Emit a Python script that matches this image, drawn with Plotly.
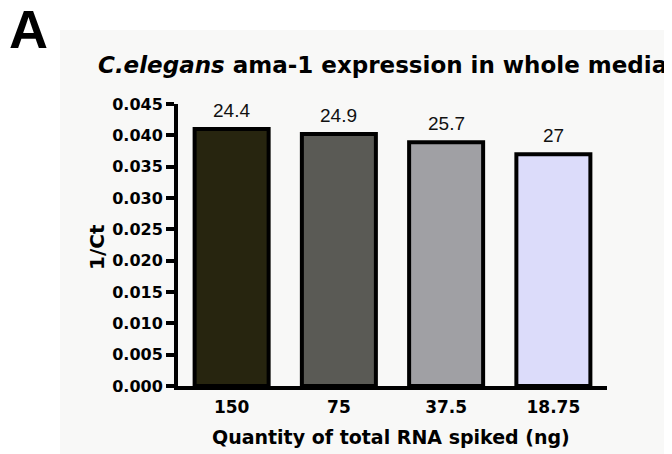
import plotly.graph_objects as go

categories = ["150", "75", "37.5", "18.75"]
inv_ct = [0.0410, 0.0402, 0.0389, 0.0370]
ct_labels = ["24.4", "24.9", "25.7", "27"]
bar_colors = ["#27250f", "#5a5a55", "#a0a0a4", "#dcdcfa"]
y_ticks = [0.000, 0.005, 0.010, 0.015, 0.020, 0.025, 0.030, 0.035, 0.040, 0.045]

OFF = 8  # page body margin
L, R, T, B = 178 - OFF, 607 - OFF, 104 - OFF, 386 - OFF
W, H = 672, 454
def px(x):
    return (x - OFF - L) / (R - L)
def py(y):
    return (B - (y - OFF)) / (B - T)

FB = "DejaVu Sans, Verdana, sans-serif"

fig = go.Figure()
fig.add_trace(go.Bar(
    x=categories, y=inv_ct,
    marker=dict(color=bar_colors, line=dict(color="black", width=4)),
    cliponaxis=False,
))

annotations = [
    dict(text="<b>A</b>", xref="paper", yref="paper", x=px(8), y=py(29), xanchor="left", yanchor="middle",
         height=46, valign="middle", borderpad=0,
         showarrow=False, font=dict(size=54, family="Liberation Sans, Arial", color="black")),
    dict(text="<b><i>C.elegans</i> ama-1 expression in whole media</b>", xref="paper", yref="paper",
         x=px(382), y=py(65), xanchor="center", yanchor="middle", showarrow=False,
         font=dict(size=23, family=FB, color="black")),
    dict(text="<b>Quantity of total RNA spiked (ng)</b>", xref="paper", yref="paper",
         x=px(391), y=py(437), xanchor="center", yanchor="middle", showarrow=False,
         font=dict(size=19, family=FB, color="black")),
    dict(text="<b>1/Ct</b>", xref="paper", yref="paper", textangle=-90,
         x=px(97), y=py(247), xanchor="center", yanchor="middle", showarrow=False,
         font=dict(size=20, family=FB, color="black")),
]
for i, (v, t) in enumerate(zip(inv_ct, ct_labels)):
    annotations.append(dict(text=t, x=i, y=v, xref="x", yref="y", yanchor="bottom", yshift=6,
                            showarrow=False, font=dict(family="Liberation Sans, Arial", size=19, color="#111")))

fig.update_layout(
    width=W, height=H,
    margin=dict(l=L, r=W - R, t=T, b=H - B, autoexpand=False),
    paper_bgcolor="white", plot_bgcolor="rgba(0,0,0,0)",
    bargap=0.31, showlegend=False,
    font=dict(family=FB, color="black"),
    shapes=[dict(type="rect", xref="paper", yref="paper", x0=px(60), x1=px(700), y0=py(480), y1=py(30),
                 fillcolor="#f8f8f7", line=dict(width=0), layer="below")],
    annotations=annotations,
)

fig.update_xaxes(
    type="category", range=[-0.5, 3.5], showline=True, linecolor="black", linewidth=4,
    ticks="outside", ticklen=3, tickcolor="rgba(0,0,0,0)",
    tickfont=dict(size=17, family=FB, color="black"),
    tickprefix="<b>", ticksuffix="</b>",
    showgrid=False, zeroline=False, automargin=False,
)
fig.update_yaxes(
    range=[0, 0.045], tickvals=y_ticks, ticktext=[f"<b>{v:.3f}</b>" for v in y_ticks],
    showline=True, linecolor="black", linewidth=4, ticks="outside", ticklen=8, tickwidth=3.5,
    tickcolor="black", tickfont=dict(size=16, family=FB, color="black"),
    showgrid=False, zeroline=False, automargin=False,
)

fig.write_html("out.html")
